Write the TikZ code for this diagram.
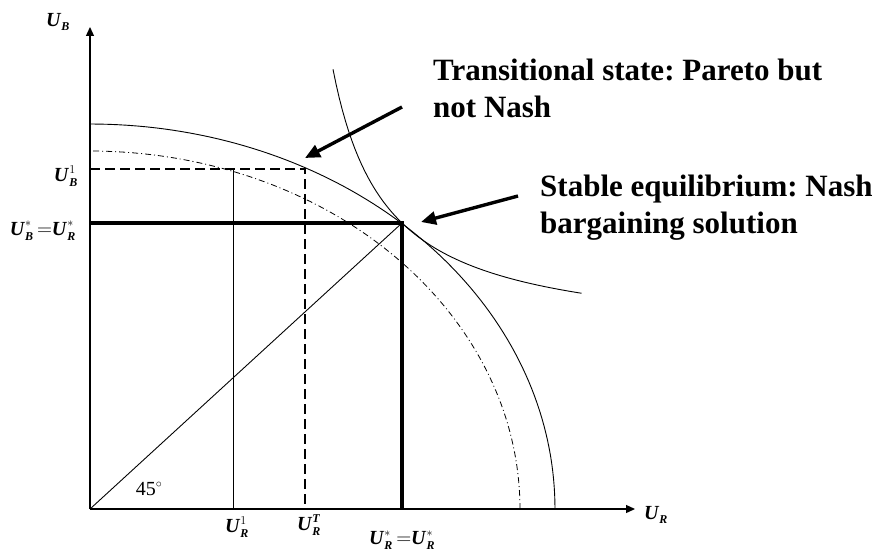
\documentclass[tikz,border=0pt]{standalone}
\usepackage{amsmath}
\usepackage{fontspec}
\setmainfont{Liberation Serif}
\usepackage{tikz}
\usetikzlibrary{arrows.meta,calc}

\DeclareMathSizes{20}{20}{12}{9}
\newcommand{\bi}[1]{\textbf{\textit{#1}}}
\frenchspacing

\begin{document}
\begin{tikzpicture}[x=1pt,y=-1pt,
    axis/.style={line width=1.3pt,-{Triangle[length=9pt,width=8pt]}},
    thinline/.style={line width=0.9pt},
    thickline/.style={line width=3.4pt},
    dashline/.style={line width=2.2pt,dash pattern=on 10pt off 5pt},
    dashdot/.style={line width=0.8pt,dash pattern=on 6pt off 3pt on 1pt off 3pt},
    pointer/.style={line width=3.4pt,-{Triangle[length=15pt,width=13pt]}},
    lab/.style={font=\fontsize{20}{22}\selectfont,inner sep=0pt},
    note/.style={font=\fontsize{31}{37}\selectfont\bfseries,align=left,
      inner sep=0pt,anchor=base west}]
    \useasboundingbox (0,0) rectangle (880,551);
    % key points
    \coordinate (O) at (90,509);
    \coordinate (Ytop) at (90,27);
    \coordinate (Xend) at (635,509);
    \coordinate (E) at (402,223);
    \coordinate (EB) at (90,223);
    \coordinate (ER) at (402,509);
    \coordinate (T) at (305,169);
    \coordinate (TB) at (90,169);
    \coordinate (TR) at (305,509);
    \coordinate (A) at (233,170);
    \coordinate (AR) at (233,509);
    % frontiers and indifference curve
    \draw[thinline] plot[domain=0:90,samples=80]
      ({90+465*cos(\x)},{509-385*sin(\x)});
    \draw[dashdot] plot[domain=0:90,samples=80]
      ({90+430*cos(\x)},{509-358*sin(\x)});
    \draw[thinline] plot[domain=243:491.5,samples=80]
      ({90+\x},{509-168-14400/(\x-190)});
    % guide lines
    \draw[thinline] (O) -- (E);
    \draw[thinline] (A) -- (AR);
    \draw[dashline] (TB) -- (T) -- (TR);
    \draw[thickline] (EB) -- (E) -- (ER);
    % axes
    \draw[axis] (O) -- (Ytop);
    \draw[axis] (O) -- (Xend);
    % labels
    \node[lab] (UB) at (58,22) {$\bi{U}_{\bi{B}}$};
    \node[lab] (UR) at (656,515) {$\bi{U}_{\bi{R}}$};
    \node[lab,anchor=east] (UB1) at (78,176) {$\bi{U}_{\bi{B}}^{1}$};
    \node[lab,anchor=east] (UBs) at (76,231) {$\bi{U}_{\bi{B}}^{*}\,{=}\bi{U}_{\bi{R}}^{*}$};
    \node[lab] (UR1) at (237,527) {$\bi{U}_{\bi{R}}^{1}$};
    \node[lab] (URT) at (309,525) {$\bi{U}_{\bi{R}}^{\bi{T}}$};
    \node[lab] (URs) at (402,540) {$\bi{U}_{\bi{R}}^{*}\,{=}\bi{U}_{\bi{R}}^{*}$};
    \node[lab] (deg) at (149,489) {45$^{\circ}$};
    % comments on the two states
    \node[note] (trans) at (433,117) {Transitional state: Pareto but\\not Nash};
    \node[note] (stable) at (540,233) {Stable equilibrium: Nash\\bargaining solution};
    \coordinate (transTail) at (402,107);
    \coordinate (transTip) at (305,158);
    \coordinate (stableTail) at (518,196);
    \coordinate (stableTip) at (421,222);
    \draw[pointer] (transTail) -- (transTip);
    \draw[pointer] (stableTail) -- (stableTip);
\end{tikzpicture}
\end{document}
